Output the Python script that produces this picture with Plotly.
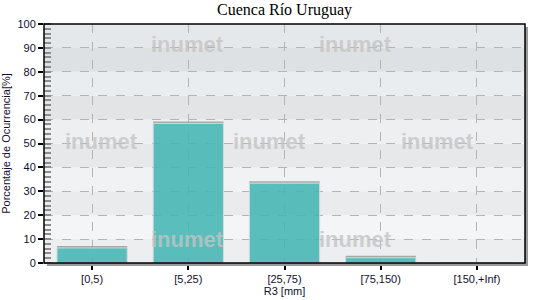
import plotly.graph_objects as go

categories = ["[0,5)", "[5,25)", "[25,75)", "[75,150)", "[150,+Inf)"]
values = [6.3, 58.4, 33.4, 2.2, 0.0]
y_ticks = [0, 10, 20, 30, 40, 50, 60, 70, 80, 90, 100]
band_colors = ["#eceef0", "#f3f5f6", "#e9ebed", "#f0f2f4", "#e6e8ea",
               "#edeff1", "#e2e4e6", "#eaedef", "#dee1e3", "#e5e8eb"]
title_text = "Cuenca Río Uruguay"
x_title = "R3 [mm]"
y_title = "Porcentaje de Ocurrencia[%]"
watermark = "inumet"
wm_pos = [(187, 44), (355, 44), (101, 141), (269, 141), (437, 141), (187, 239), (355, 239)]

W, H = 540, 300
L, R, T, B = 44, 15, 24, 37
pw, ph = W - L - R, H - T - B

fig = go.Figure()
# bar top shadow
fig.add_trace(go.Bar(x=categories, y=[0.8 if v > 0 else 0 for v in values], base=values,
                     width=0.73, marker=dict(color="rgba(150,150,150,0.8)", line=dict(width=0)),
                     hoverinfo="skip", showlegend=False))
fig.add_trace(go.Bar(x=categories, y=values, width=0.73,
                     marker=dict(color="rgba(64,180,178,0.86)",
                                 line=dict(color="rgba(215,220,222,0.9)", width=1)),
                     showlegend=False))

shapes = []
for i, c in enumerate(band_colors):
    shapes.append(dict(type="rect", xref="paper", yref="y", x0=0, x1=1,
                       y0=y_ticks[i], y1=y_ticks[i + 1], fillcolor=c,
                       line=dict(width=0), layer="below"))
# frame shadow
sx = 3 / pw
sy = 3 / ph
shapes.append(dict(type="rect", xref="paper", yref="paper", x0=1, x1=1 + sx, y0=-sy, y1=1 - sy,
                   fillcolor="#9a9a9a", line=dict(width=0), layer="above"))
shapes.append(dict(type="rect", xref="paper", yref="paper", x0=sx, x1=1 + sx, y0=-sy, y1=0,
                   fillcolor="#9a9a9a", line=dict(width=0), layer="above"))
shapes.append(dict(type="rect", xref="paper", yref="paper", x0=0, x1=1, y0=0, y1=1,
                   line=dict(color="black", width=1.5), layer="above"))

annotations = []
for (px, py) in wm_pos:
    annotations.append(dict(text="<b>" + watermark + "</b>", xref="paper", yref="paper",
                            x=(px - L) / pw, y=(H - B - py) / ph, showarrow=False,
                            font=dict(family="Liberation Sans", size=22, color="rgba(196,196,196,0.8)"),
                            xanchor="center", yanchor="middle"))
annotations.append(dict(text=title_text, xref="paper", yref="paper", x=0.5, y=1,
                        yshift=3, yanchor="bottom", showarrow=False,
                        font=dict(family="Liberation Serif", size=16, color="#000000")))

fig.update_layout(
    width=W, height=H,
    margin=dict(l=L, r=R, t=T, b=B, autoexpand=False),
    paper_bgcolor="white", plot_bgcolor="rgba(0,0,0,0)",
    barmode="overlay", bargap=0.27,
    shapes=shapes, annotations=annotations,
    font=dict(family="Liberation Sans", size=11, color="#101030"),
)
fig.update_xaxes(
    type="category", range=[-0.5, 4.5], automargin=False,
    showgrid=True, gridcolor="#b4b4b4", griddash="dash", gridwidth=1,
    ticks="outside", ticklen=6, tickcolor="black", tickwidth=1.5,
    showline=False, zeroline=False,
    title=dict(text=x_title, standoff=1, font=dict(size=11)),
    tickfont=dict(size=11),
)
fig.update_yaxes(
    range=[0, 100], tickvals=y_ticks, showgrid=True, gridcolor="#b4b4b4",
    griddash="dash", gridwidth=1, zeroline=False, showline=False, automargin=False,
    ticks="outside", ticklen=5, tickcolor="black", tickwidth=1.5,
    minor=dict(dtick=2, ticks="inside", ticklen=7, tickcolor="#8c8c8c", showgrid=False),
    title=dict(text=y_title, standoff=6, font=dict(size=11)),
    tickfont=dict(size=11),
)
fig.write_html("out.html")
